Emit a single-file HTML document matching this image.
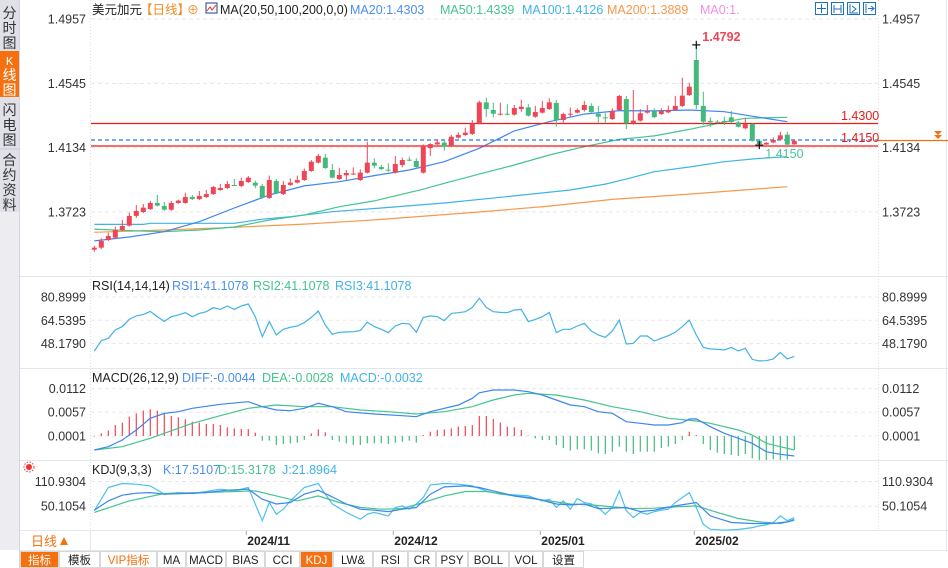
<!DOCTYPE html>
<html><head><meta charset="utf-8">
<style>
html,body{margin:0;padding:0;background:#fff;}
body{width:948px;height:568px;overflow:hidden;position:relative;font-family:"Liberation Sans","Noto Sans CJK SC",sans-serif;}
svg{position:absolute;left:0;top:0;}
text{font-family:"Liberation Sans","Noto Sans CJK SC",sans-serif;}
.mono{font-family:"Liberation Mono","Noto Sans CJK SC",monospace;}
</style></head>
<body>
<svg id="chart" width="948" height="568" viewBox="0 0 948 568">
  <rect x="0" y="0" width="19" height="550" fill="#ececf1"/>
  <rect x="0" y="0" width="19" height="212" fill="#dfe0e8"/>
  <g font-size="14" fill="#333" text-anchor="middle">
    <text x="9.5" y="18">分</text><text x="9.5" y="33">时</text><text x="9.5" y="48">图</text>
  </g>
  <rect x="0" y="51" width="19" height="46" fill="#f7700f"/>
  <g font-size="14" fill="#fff" text-anchor="middle">
    <text x="9.5" y="65" class="mono" font-size="12">K</text><text x="9.5" y="80">线</text><text x="9.5" y="95">图</text>
  </g>
  <line x1="0" y1="149" x2="19" y2="149" stroke="#c9cad3"/>
  <g font-size="14" fill="#333" text-anchor="middle">
    <text x="9.5" y="115">闪</text><text x="9.5" y="130">电</text><text x="9.5" y="145">图</text>
  </g>
  <g font-size="14" fill="#333" text-anchor="middle">
    <text x="9.5" y="165">合</text><text x="9.5" y="180">约</text><text x="9.5" y="195">资</text><text x="9.5" y="210">料</text>
  </g>
  <line x1="19.5" y1="0" x2="19.5" y2="568" stroke="#d5d6dd"/>
  <g stroke="#e3e6ea" stroke-width="1">
    <line x1="20" y1="276.5" x2="948" y2="276.5"/>
    <line x1="20" y1="368.5" x2="948" y2="368.5"/>
    <line x1="20" y1="460.5" x2="948" y2="460.5"/>
    <line x1="20" y1="530.5" x2="948" y2="530.5"/>
    <line x1="20" y1="550.5" x2="948" y2="550.5"/>
  </g>
  <line x1="90.5" y1="0" x2="90.5" y2="530" stroke="#dde0e4" stroke-dasharray="1,2"/>
  <line x1="878.5" y1="0" x2="878.5" y2="530" stroke="#dde0e4" stroke-dasharray="1,2"/>
  <line x1="946.5" y1="0" x2="946.5" y2="550" stroke="#e3e6ea"/>
  <g id="layer-grid"></g>
  <g id="layer-main"></g>
  <g id="layer-ind"></g>
  <g font-size="12.5">
    <text x="92" y="14" fill="#222">美元加元</text>
    <text x="140" y="14" fill="#f28a1c">【日线】</text>
    <text x="187" y="14" fill="#f28a1c" font-size="12">⊕</text>
    <rect x="206" y="3" width="11" height="10" fill="#fff" stroke="#1d3f8e"/>
    <polyline points="207,11 210,7 212,10 216,5" fill="none" stroke="#e03030"/>
    <text x="220" y="14" fill="#222">MA(20,50,100,200,0,0)</text>
    <text x="350" y="14" fill="#4a8fef">MA20:1.4303</text>
    <text x="440" y="14" fill="#44c48e">MA50:1.4339</text>
    <text x="522" y="14" fill="#3fb3e6">MA100:1.4126</text>
    <text x="607" y="14" fill="#f7994b">MA200:1.3889</text>
    <text x="700" y="14" fill="#f28ee0">MA0:1.</text>
  </g>
  <g fill="none" stroke="#1d6fc4">
    <rect x="815.5" y="2.5" width="12" height="12"/><rect x="831.5" y="2.5" width="12" height="12"/>
    <rect x="847.5" y="2.5" width="12" height="12"/><rect x="863.5" y="2.5" width="12" height="12"/>
    <path d="M821.5 4v9M817 8.5h9M834 5v8M841 5v8M834 9h7M850 4v9h8M852 6l4 3-4 3M866 4v9M868 8.5h6M871 6l3 2.5-3 2.5"/>
  </g>
  <g font-size="12.5">
    <text x="92" y="290" fill="#222">RSI(14,14,14)</text>
    <text x="172" y="290" fill="#4a8fef">RSI1:41.1078</text>
    <text x="253" y="290" fill="#44c48e">RSI2:41.1078</text>
    <text x="335" y="290" fill="#3fb3e6">RSI3:41.1078</text>
  </g>
  <g font-size="12.5">
    <text x="92" y="382" fill="#222">MACD(26,12,9)</text>
    <text x="182" y="382" fill="#4a8fef">DIFF:-0.0044</text>
    <text x="262" y="382" fill="#44c48e">DEA:-0.0028</text>
    <text x="340" y="382" fill="#3fb3e6">MACD:-0.0032</text>
  </g>
  <g font-size="12.5">
    <text x="92" y="474" fill="#222">KDJ(9,3,3)</text>
    <text x="163" y="474" fill="#4a8fef">K:17.5107</text>
    <text x="218" y="474" fill="#44c48e">D:15.3178</text>
    <text x="282" y="474" fill="#3fb3e6">J:21.8964</text>
  </g>
  <g>
    <circle cx="29" cy="467" r="3" fill="#e33" /><circle cx="29" cy="467" r="5" fill="none" stroke="#e33" stroke-dasharray="1.5,1.5"/>
  </g>
  <g>
    <text x="31" y="546" font-size="13" fill="#f7700f">日线</text>
    <path d="M60 545l4-8 4 8z" fill="#f7700f"/>
  </g>
  <line x1="90.5" y1="531" x2="90.5" y2="550" stroke="#e3e6ea"/>
  <g id="xaxis" font-size="12" font-weight="bold" fill="#222"></g>
  <g id="toolbar" class="mono" font-size="11.5"></g>
</svg>
<script>
const opens  = [1.3481,1.3494,1.3543,1.3558,1.3607,1.3635,1.3697,1.3722,1.3741,1.3780,1.3761,1.3737,1.3780,1.3780,1.3818,1.3805,1.3818,1.3837,1.3863,1.3876,1.3895,1.3889,1.3914,1.3910,1.3889,1.3812,1.3921,1.3837,1.3895,1.3910,1.3927,1.3985,1.4038,1.4070,1.3991,1.3933,1.3957,1.3964,1.3927,1.3974,1.4038,1.4010,1.3993,1.3974,1.4023,1.4057,1.4049,1.3974,1.4131,1.4155,1.4166,1.4144,1.4198,1.4215,1.4222,1.4290,1.4424,1.4375,1.4345,1.4351,1.4345,1.4381,1.4392,1.4332,1.4358,1.4381,1.4420,1.4311,1.4345,1.4358,1.4375,1.4401,1.4351,1.4328,1.4317,1.4375,1.4445,1.4287,1.4307,1.4358,1.4367,1.4349,1.4360,1.4375,1.4401,1.4471,1.4695,1.4401,1.4305,1.4300,1.4305,1.4328,1.4296,1.4258,1.4285,1.4178,1.4154,1.4167,1.4186,1.4217,1.4155];
const closes = [1.3494,1.3537,1.3569,1.3607,1.3633,1.3697,1.3729,1.3750,1.3780,1.3763,1.3737,1.3780,1.3795,1.3818,1.3805,1.3825,1.3837,1.3882,1.3876,1.3901,1.3892,1.3921,1.3942,1.3891,1.3814,1.3927,1.3844,1.3895,1.3910,1.3927,1.3985,1.4044,1.4081,1.4004,1.3942,1.3959,1.3972,1.3968,1.3974,1.4038,1.4019,1.3997,1.3989,1.4029,1.4055,1.4053,1.4010,1.4140,1.4157,1.4168,1.4140,1.4204,1.4215,1.4230,1.4290,1.4424,1.4381,1.4351,1.4351,1.4346,1.4388,1.4396,1.4339,1.4362,1.4388,1.4424,1.4311,1.4349,1.4351,1.4375,1.4407,1.4362,1.4332,1.4324,1.4369,1.4465,1.4290,1.4307,1.4354,1.4367,1.4329,1.4369,1.4375,1.4401,1.4467,1.4524,1.4407,1.4300,1.4297,1.4294,1.4297,1.4298,1.4268,1.4285,1.4178,1.4157,1.4165,1.4183,1.4213,1.4153,1.4178];
const highs  = [1.3505,1.3554,1.3590,1.3628,1.3671,1.3718,1.3767,1.3773,1.3793,1.3831,1.3786,1.3793,1.3801,1.3846,1.3831,1.3857,1.3863,1.3889,1.3901,1.3921,1.3932,1.3942,1.3953,1.3923,1.3901,1.3955,1.3933,1.3921,1.3938,1.3955,1.4000,1.4055,1.4094,1.4094,1.4029,1.4006,1.3991,1.4008,1.3995,1.4172,1.4066,1.4023,1.4034,1.4081,1.4070,1.4076,1.4066,1.4155,1.4163,1.4188,1.4188,1.4215,1.4232,1.4262,1.4311,1.4435,1.4454,1.4422,1.4422,1.4412,1.4407,1.4439,1.4412,1.4401,1.4433,1.4450,1.4439,1.4358,1.4392,1.4385,1.4433,1.4418,1.4401,1.4354,1.4386,1.4471,1.4465,1.4503,1.4381,1.4407,1.4386,1.4386,1.4403,1.4465,1.4582,1.4550,1.4792,1.4492,1.4328,1.4311,1.4332,1.4369,1.4305,1.4322,1.4290,1.4182,1.4170,1.4200,1.4236,1.4236,1.4188];
const lows   = [1.3468,1.3485,1.3537,1.3550,1.3600,1.3628,1.3684,1.3716,1.3735,1.3757,1.3730,1.3730,1.3775,1.3775,1.3800,1.3798,1.3812,1.3831,1.3857,1.3870,1.3889,1.3882,1.3908,1.3874,1.3808,1.3805,1.3838,1.3831,1.3889,1.3905,1.3921,1.3979,1.4032,1.3998,1.3936,1.3927,1.3927,1.3960,1.3921,1.3968,1.4002,1.3991,1.3980,1.3968,1.4008,1.4047,1.4004,1.3968,1.4081,1.4150,1.4115,1.4138,1.4192,1.4210,1.4215,1.4284,1.4332,1.4328,1.4340,1.4340,1.4339,1.4364,1.4333,1.4326,1.4352,1.4375,1.4268,1.4290,1.4332,1.4352,1.4364,1.4356,1.4290,1.4290,1.4311,1.4369,1.4253,1.4281,1.4301,1.4352,1.4323,1.4343,1.4354,1.4369,1.4395,1.4465,1.4381,1.4279,1.4268,1.4290,1.4279,1.4292,1.4262,1.4252,1.4172,1.4150,1.4152,1.4162,1.4180,1.4152,1.4152];
const ma20Idx = [0,5,10,15,20,25,30,35,40,45,50,55,60,65,70,75,80,85,90,95,99];
const ma20Val = [1.3537,1.3562,1.3596,1.3660,1.3748,1.3831,1.3889,1.3916,1.3955,1.3991,1.4044,1.4130,1.4241,1.4300,1.4349,1.4371,1.4369,1.4375,1.4364,1.4328,1.4300];
const ma50Idx = [0,5,10,15,20,25,30,35,40,47,50,55,60,65,70,75,80,85,90,93,99];
const ma50Val = [1.3613,1.3603,1.3596,1.3607,1.3626,1.3671,1.3703,1.3756,1.3793,1.3868,1.3906,1.3965,1.4023,1.4087,1.4140,1.4187,1.4209,1.4251,1.4298,1.4322,1.4328];
const ma100Idx = [0,7,8,20,24,28,34,41,50,60,68,73,76,80,85,90,95,99];
const ma100Val = [1.3643,1.3643,1.3650,1.3650,1.3676,1.3692,1.3724,1.3748,1.3780,1.3825,1.3863,1.3901,1.3933,1.3980,1.4010,1.4044,1.4065,1.4076];
const ma200Idx = [0,10,20,30,38,41,55,65,74,85,99];
const ma200Val = [1.3592,1.3607,1.3624,1.3645,1.3666,1.3675,1.3722,1.3760,1.3803,1.3837,1.3884];
const priceTicks = [1.4957,1.4545,1.4134,1.3723];
const priceTickLabels = ["1.4957","1.4545","1.4134","1.3723"];
const rsiVals = [43.0,50.2,51.9,57.7,60.1,65.2,67.6,68.7,70.8,67.1,63.8,67.1,68.3,69.9,67.1,69.4,70.6,73.4,72.2,74.6,72.2,74.6,76.0,67.1,53.0,63.6,54.2,58.2,59.6,60.5,62.9,66.6,71.1,61.2,54.7,56.1,56.3,56.5,57.3,63.1,60.1,58.2,55.9,60.5,62.4,62.0,56.1,66.6,67.6,67.1,64.3,69.4,69.9,70.6,73.6,80.0,73.6,70.6,70.1,69.9,71.8,72.2,63.6,65.2,67.1,70.1,55.9,58.2,58.2,60.5,62.4,57.0,54.2,52.6,57.0,64.7,47.9,48.4,53.5,53.5,50.0,51.9,53.7,56.1,60.1,64.7,54.2,45.5,44.4,44.2,43.7,45.5,43.0,44.9,37.1,36.0,36.2,37.4,42.0,37.4,39.2];
const rsiTicks = [80.8999,64.5395,48.1790];
const rsiTickLabels = ["80.8999","64.5395","48.1790"];
const diffIdx = [0,2,4,6,8,10,12,14,18,22,24,26,28,30,32,34,36,40,44,46,48,52,54,55,57,60,62,64,66,68,70,72,74,76,78,80,82,84,85,86,88,90,92,94,96,98,100];
const diffVal = [-31.8,-24,-8.4,15,42.4,54,57.9,65.8,75.2,81.3,69.6,61.8,60.2,65.8,77.5,69.6,57.9,52.5,48.5,46.2,57.9,73.5,89.2,102,108.7,108.7,104.7,97,85.3,73.5,69.6,57.9,54.1,34.5,30.7,26.7,26.7,32.1,40.8,41,22.8,7.3,-4.4,-16.1,-35.7,-41.8,-45.8];
const deaIdx = [0,4,8,10,14,18,22,26,30,34,38,42,46,50,54,55,57,60,62,66,70,74,78,82,86,88,92,94,96,98,100];
const deaVal = [-31.8,-24,-4.4,7.3,30.7,48.5,65.8,73.5,69.6,69.6,61.8,57.9,52.5,57.9,69.6,75.2,85.3,97,100.9,97,85.3,69.6,57.9,42.4,36.1,30.7,15,3.3,-16.1,-24,-31.8];
const histVal = [-1.6,6.2,12.5,25.7,31.2,45.2,53,59.3,62.4,59.3,53,46.8,43.7,39,33.5,31.2,28.1,28.1,25.7,20.3,17.9,16.4,16.4,7.8,-10.9,-10.9,-21.1,-18.7,-17.2,-15.6,-9.4,6.2,15.6,8.6,-9.4,-13.3,-17.2,-21.1,-21.1,-17.2,-17.2,-17.2,-18.7,-15.6,-13.3,-10.9,-15.6,2.3,10.1,14,15.6,17.9,21.8,23.4,25.7,46.8,46.8,39.8,31.2,21.8,20.3,14,0.8,-5.5,-9.4,-9.4,-21.1,-28.1,-34.3,-31.2,-31.2,-34.3,-40.6,-42.1,-36.7,-25,-36.7,-42.1,-36.7,-36.7,-36.7,-28.1,-25,-18.7,-9.4,10.1,2.3,-18.7,-32.8,-39,-42.1,-44.5,-46.8,-42.1,-52.3,-56.2,-56.2,-54.6,-56,-55,-32.8];
const macdTicks = [0.0112,0.0057,0.0001];
const macdTickLabels = ["0.0112","0.0057","0.0001"];
const kIdx = [0,2,4,6,8,10,13,16,19,22,24,26,28,30,32,34,36,38,40,42,44,46,48,50,53,55,57,60,63,66,68,70,72,74,76,78,80,83,86,88,91,94,97,99,100];
const kVal = [40.2,63.2,77.2,82.1,83.7,79.6,81.3,83.7,89.5,92,67.3,55.4,59.1,79.6,89.5,73.1,55.4,42.7,40.2,36.9,42.7,46.8,79.6,97.7,100.2,96.1,87.9,75.5,69,55.4,53.4,55.4,44.3,45.2,46.8,36.9,40.2,50.9,59.1,26.3,9.9,7.4,7.4,11.5,17.5];
const dIdx = [0,5,10,15,20,23,26,29,32,35,38,41,44,47,50,53,56,59,62,65,68,71,74,77,80,83,86,89,92,95,98,100];
const dVal = [34.9,63.2,81.3,83.7,86.2,87.9,75.5,63.2,75.5,59.1,46.8,42.7,44.3,59.1,75.5,86.2,86.2,78,69.8,63.2,55.4,53.4,48.4,44.3,45.2,48.4,50.9,34.9,19.7,11.5,7.4,15.3];
const jIdx = [0,2,4,6,8,10,12,14,16,18,20,22,24,25,26,27,28,30,32,33,34,36,38,39,40,42,43,44,45,46,47,48,50,52,54,56,58,60,62,64,65,66,67,68,69,70,71,72,73,74,75,76,77,78,79,80,81,82,83,84,85,86,87,88,90,92,94,95,96,97,98,99,100];
const jVal = [39,96.1,105.9,104.3,100.2,79.6,83.7,81.3,86.2,92,87.9,96.1,14.4,59.1,30.4,42.7,63.2,96.1,105.9,79.6,55.4,34.9,18.1,30.4,34.9,26.3,46.8,50.9,42.7,55.4,71.4,102.6,105.9,104.3,100.2,87.9,79.6,78,75.5,63.2,67.3,46.8,63.2,42.7,69,59.1,55.4,46.8,30.4,46.8,87.9,39,22.2,34.9,30.4,36.9,40.2,42.7,59.1,71.4,83.7,46.8,5.8,-6.6,-9.1,-7.4,-2.5,1.6,4.1,9.9,26.3,14.4,21.9];
const kdjTicks = [110.9304,50.1054];
const kdjTickLabels = ["110.9304","50.1054"];
const dateIdx = [22,43,64,86];
const dateLabels = ["2024/11","2024/12","2025/01","2025/02"];
const toolButtons = ["指标","模板","VIP指标","MA","MACD","BIAS","CCI","KDJ","LW&","RSI","CR","PSY","BOLL","VOL","设置"];

const NS = "http://www.w3.org/2000/svg";
const xS = i => 94.3 + 7 * i;
const yP = p => 100 + (1.4439 - p) / 0.00064;
const yR = v => 297 + (80.8999 - v) * 1.424;
const yM = m => 436 - (m - 1) * 0.4273;
const yMv = v => yM(v * 10000);
const yK = v => 481.5 + (110.9304 - v) * 0.406;
const RED = "#ee4656", GREEN = "#45b97c";

function mk(tag, attrs, parent) {
  const el = document.createElementNS(NS, tag);
  for (const k in attrs) el.setAttribute(k, attrs[k]);
  parent.appendChild(el);
  return el;
}
const grid = document.getElementById('layer-grid');
const main = document.getElementById('layer-main');
const ind = document.getElementById('layer-ind');

function ticks(vals, labels, yf, nameBase) {
  vals.forEach((v, i) => {
    const y = yf(v);
    const gl = mk('line', {x1: 91, x2: 878, y1: y, y2: y, stroke: '#e6e8eb', 'stroke-dasharray': '4,3'}, grid);
    
    
    const tl = mk('text', {x: 86, y: y + 4.5, 'text-anchor': 'end', 'font-size': 12.5, fill: '#333'}, grid);
    tl.textContent = labels[i];
    
    
    const tr = mk('text', {x: 882, y: y + 4.5, 'font-size': 12.5, fill: '#333'}, grid);
    tr.textContent = labels[i];
    
    
  });
}
ticks(priceTicks, priceTickLabels, yP, 'price');
ticks(rsiTicks, rsiTickLabels, yR, 'rsi');
ticks(macdTicks, macdTickLabels, yMv, 'macd');
ticks(kdjTicks, kdjTickLabels, yK, 'kdj');

function poly(idx, vals, yf, color, name, parent) {
  const pts = idx.map((i, k) => xS(i).toFixed(1) + ',' + yf(vals[k]).toFixed(1)).join(' ');
  const pl = mk('polyline', {points: pts, fill: 'none', stroke: color, 'stroke-width': 1.2}, parent);
  
  
}

poly(ma200Idx, ma200Val, yP, '#f7994b', 'ma200-line', main);
poly(ma100Idx, ma100Val, yP, '#3fb3e6', 'ma100-line', main);
poly(ma50Idx, ma50Val, yP, '#44c48e', 'ma50-line', main);
poly(ma20Idx, ma20Val, yP, '#3d86f0', 'ma20-line', main);

const hl1 = mk('line', {x1: 91, x2: 878, y1: 123.5, y2: 123.5, stroke: '#f01818', 'stroke-width': 1.3}, main);


const hl2 = mk('line', {x1: 91, x2: 878, y1: 146, y2: 146, stroke: '#f01818', 'stroke-width': 1.3}, main);


const hl3 = mk('line', {x1: 91, x2: 878, y1: 140, y2: 140, stroke: '#1c7bf2', 'stroke-width': 1.2, 'stroke-dasharray': '4,3'}, main);


const hl4 = mk('line', {x1: 878, x2: 948, y1: 140.5, y2: 140.5, stroke: '#f7700f', 'stroke-width': 1.2}, main);


const arr = mk('path', {d: 'M934 131h8l-4 4zM934 135h8l-4 4z', fill: '#f7700f'}, main);



opens.forEach((o, i) => {
  const c = closes[i], up = c >= o, col = up ? RED : GREEN;
  const x = xS(i);
  const w = mk('line', {x1: x, x2: x, y1: yP(highs[i]), y2: yP(lows[i]), stroke: col, 'stroke-width': 1}, main);
  
  
  const top = yP(Math.max(o, c)), h = Math.max(1, Math.abs(yP(o) - yP(c)));
  const b = mk('rect', {x: x - 2.5, y: top, width: 5, height: h, fill: col}, main);
  
  
});

let hiI = 0, loI = 60;
highs.forEach((h, i) => { if (h > highs[hiI]) hiI = i; });
for (let i = 60; i < lows.length; i++) if (lows[i] < lows[loI]) loI = i;
[[hiI, highs[hiI]], [loI, lows[loI]]].forEach(([i, p], k) => {
  const x = xS(i), y = yP(p);
  const cr = mk('path', {d: `M${x - 4} ${y}h8M${x} ${y - 4}v8`, stroke: '#111', 'stroke-width': 1.2}, main);
  
  
  const t = mk('text', {x: x + 6, y: k ? y + 13 : y - 4, 'font-size': 12.5, 'font-weight': k ? 'normal' : 'bold', fill: k ? '#4cc49a' : '#ee4656'}, main);
  t.textContent = p.toFixed(4);
  
  
});
const l1 = mk('text', {x: 841, y: 120, 'font-size': 12.5, fill: '#f01818'}, main);
l1.textContent = '1.4300';


const l2 = mk('text', {x: 841, y: 142, 'font-size': 12.5, fill: '#f01818'}, main);
l2.textContent = '1.4150';



poly(rsiVals.map((v, i) => i), rsiVals, yR, '#3fb3e6', 'rsi-line', ind);

histVal.forEach((m, i) => {
  const x = xS(i), y0 = yM(1), y1 = yM(1 + m);
  const bar = mk('line', {x1: x, x2: x, y1: y0, y2: y1, stroke: m >= 0 ? RED : GREEN, 'stroke-width': 1.2}, ind);
  
  
});
poly(deaIdx, deaVal, yM, '#44c48e', 'dea-line', ind);
poly(diffIdx, diffVal, yM, '#3d86f0', 'diff-line', ind);

poly(jIdx, jVal, yK, '#4cc0ee', 'j-line', ind);
poly(dIdx, dVal, yK, '#44c48e', 'd-line', ind);
poly(kIdx, kVal, yK, '#3d86f0', 'k-line', ind);

const xa = document.getElementById('xaxis');
dateIdx.forEach((i, k) => {
  const x = xS(i) - 2;
  const tk = mk('line', {x1: x, x2: x, y1: 531, y2: 535, stroke: '#aaa'}, xa);
  
  
  const t = mk('text', {x: x + 1, y: 545}, xa);
  t.textContent = dateLabels[k];
  
  
});

const tb = document.getElementById('toolbar');
const edges = [20,59,100,157,186,226,265,300,333,373,408,436,468,509,543,584];
toolButtons.forEach((lab, k) => {
  const x0 = edges[k], x1 = edges[k + 1];
  const active = lab === '指标' || lab === 'KDJ';
  const r = mk('rect', {x: x0 + 0.5, y: 551.5, width: x1 - x0 - 1, height: 16, fill: active ? '#f7700f' : '#fff', stroke: '#d8d8d8'}, tb);
  
  
  const t = mk('text', {x: (x0 + x1) / 2, y: 564, 'text-anchor': 'middle', fill: active ? '#fff' : (lab === 'VIP指标' ? '#f7700f' : '#222')}, tb);
  t.textContent = lab;
  
  
});
</script>
</body></html>
